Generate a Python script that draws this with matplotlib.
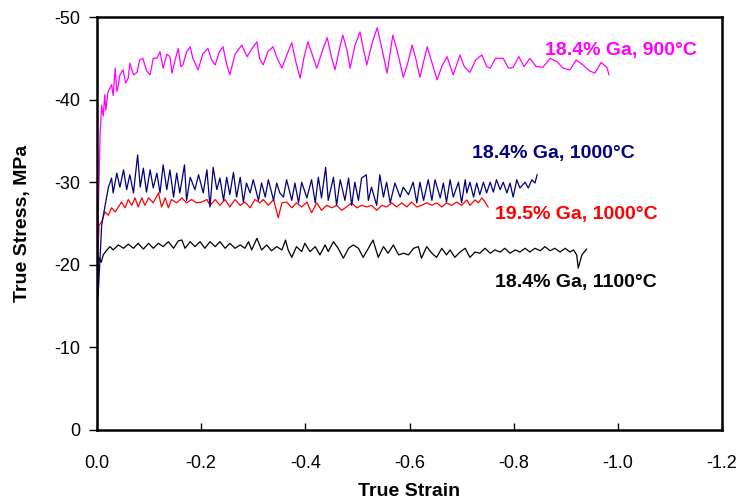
# True stress vs true strain curves for Ga alloys at several temperatures

import numpy as np
import matplotlib.pyplot as plt

plt.rcParams['font.family'] = ['Liberation Sans', 'DejaVu Sans']
plt.rcParams['axes.unicode_minus'] = False

# 18.4% Ga, 900C
strain_900 = [0.001, 0.003, 0.005, 0.006, 0.009, 0.012, 0.015, 0.017, 0.021, 0.028,
              0.031, 0.035, 0.038, 0.040, 0.044, 0.050, 0.055, 0.060, 0.063, 0.070,
              0.077, 0.082, 0.088, 0.095, 0.102, 0.108, 0.115, 0.121, 0.127, 0.134,
              0.140, 0.144, 0.150, 0.156, 0.161, 0.165, 0.172, 0.179, 0.184, 0.194,
              0.203, 0.213, 0.220, 0.227, 0.235, 0.242, 0.248, 0.255, 0.265, 0.278,
              0.288, 0.298, 0.307, 0.312, 0.319, 0.328, 0.338, 0.346, 0.355, 0.365,
              0.374, 0.382, 0.390, 0.397, 0.405, 0.413, 0.422, 0.432, 0.442, 0.450,
              0.457, 0.465, 0.472, 0.480, 0.486, 0.495, 0.505, 0.512, 0.518, 0.528,
              0.538, 0.546, 0.557, 0.568, 0.578, 0.588, 0.597, 0.605, 0.612, 0.620,
              0.634, 0.643, 0.653, 0.662, 0.672, 0.684, 0.697, 0.705, 0.716, 0.727,
              0.739, 0.748, 0.755, 0.765, 0.780, 0.790, 0.799, 0.810, 0.820, 0.831,
              0.843, 0.856, 0.870, 0.883, 0.895, 0.908, 0.920, 0.933, 0.945, 0.956,
              0.968, 0.979, 0.983]
stress_900 = [18.2, 27.8, 33.0, 36.0, 39.3, 38.0, 40.6, 38.7, 40.9, 41.8,
              40.5, 43.8, 41.0, 41.4, 43.0, 43.6, 42.0, 42.6, 44.4, 43.0,
              43.3, 44.8, 45.0, 43.5, 43.0, 45.0, 45.0, 45.8, 43.8, 45.5,
              45.2, 43.2, 44.8, 46.2, 44.0, 44.2, 45.8, 46.4, 45.0, 43.6,
              45.5, 46.2, 44.8, 44.2, 45.8, 46.4, 44.5, 43.0, 45.5, 46.6,
              45.2, 46.2, 47.0, 45.0, 44.2, 45.8, 46.4, 45.0, 43.8, 45.5,
              46.9, 44.5, 42.6, 45.0, 47.0, 45.5, 43.8, 45.8, 47.5, 45.2,
              43.6, 46.0, 47.8, 46.0, 43.8, 46.5, 48.2, 46.0, 44.2, 46.8,
              48.7, 46.5, 43.2, 47.8, 45.5, 42.7, 44.5, 46.6, 45.0, 42.7,
              46.4, 44.5, 42.4, 44.0, 45.2, 43.0, 45.4, 44.0, 43.3, 44.8,
              45.4, 44.0, 43.8, 45.0, 45.0, 43.8, 43.9, 45.2, 44.0, 45.0,
              44.0, 43.9, 45.0, 44.6, 43.8, 43.6, 44.8, 44.2, 43.5, 43.2,
              44.5, 43.9, 43.0]

# 18.4% Ga, 1000C
strain_1000a = [0.000, 0.003, 0.006, 0.009, 0.015, 0.022, 0.028, 0.031, 0.038, 0.044,
                0.051, 0.057, 0.063, 0.070, 0.078, 0.083, 0.089, 0.095, 0.102, 0.108,
                0.115, 0.121, 0.127, 0.134, 0.140, 0.147, 0.153, 0.159, 0.168, 0.172,
                0.179, 0.188, 0.195, 0.204, 0.211, 0.217, 0.223, 0.230, 0.236, 0.243,
                0.249, 0.255, 0.262, 0.268, 0.275, 0.281, 0.287, 0.294, 0.300, 0.310,
                0.316, 0.323, 0.329, 0.339, 0.345, 0.351, 0.358, 0.364, 0.374, 0.380,
                0.387, 0.393, 0.403, 0.412, 0.419, 0.425, 0.431, 0.439, 0.444, 0.454,
                0.460, 0.467, 0.476, 0.483, 0.489, 0.495, 0.502, 0.508, 0.517, 0.521,
                0.527, 0.537, 0.543, 0.550, 0.556, 0.563, 0.572, 0.582, 0.588, 0.598,
                0.607, 0.614, 0.620, 0.627, 0.636, 0.643, 0.649, 0.659, 0.665, 0.671,
                0.678, 0.684, 0.694, 0.700, 0.707, 0.710, 0.716, 0.723, 0.729, 0.735,
                0.742, 0.748, 0.755, 0.761, 0.767, 0.774, 0.780, 0.787, 0.793, 0.799,
                0.806, 0.812, 0.822, 0.828, 0.835, 0.841, 0.845]
stress_1000a = [15.0, 17.3, 21.0, 24.8, 27.0, 29.4, 30.5, 28.7, 31.1, 29.4,
                31.5, 29.1, 30.9, 28.7, 33.3, 29.4, 31.7, 28.8, 31.5, 29.3,
                31.1, 28.7, 32.1, 29.1, 31.5, 28.2, 31.1, 28.7, 32.1, 27.8,
                30.6, 29.1, 30.9, 28.7, 31.5, 27.0, 31.8, 29.1, 30.5, 27.8,
                30.6, 28.5, 31.2, 28.2, 30.6, 27.6, 29.9, 28.7, 30.3, 27.8,
                29.9, 28.2, 30.3, 27.8, 29.9, 28.7, 28.2, 30.3, 27.8, 29.9,
                27.5, 30.0, 28.1, 30.3, 27.5, 30.6, 28.1, 31.8, 27.8, 30.6,
                27.2, 30.3, 27.8, 30.5, 27.2, 30.0, 27.8, 30.5, 30.9, 27.8,
                29.4, 27.2, 30.9, 28.2, 30.0, 27.5, 29.9, 28.2, 29.4, 28.5,
                30.0, 27.5, 30.0, 27.8, 30.3, 27.8, 30.3, 28.1, 29.9, 27.6,
                30.3, 28.2, 30.0, 27.5, 30.3, 28.7, 30.0, 28.2, 29.9, 28.5,
                30.0, 28.7, 30.0, 28.8, 30.3, 29.1, 30.0, 28.7, 29.9, 28.2,
                30.3, 29.3, 30.0, 29.3, 30.3, 29.9, 30.9]

# 19.5% Ga, 1000C
strain_1000b = [0.000, 0.001, 0.002, 0.004, 0.009, 0.015, 0.022, 0.028, 0.035, 0.041,
                0.047, 0.054, 0.060, 0.067, 0.073, 0.079, 0.086, 0.092, 0.099, 0.108,
                0.118, 0.124, 0.131, 0.137, 0.143, 0.153, 0.163, 0.172, 0.182, 0.191,
                0.201, 0.211, 0.217, 0.227, 0.236, 0.246, 0.255, 0.265, 0.275, 0.284,
                0.294, 0.303, 0.313, 0.319, 0.329, 0.339, 0.348, 0.355, 0.364, 0.374,
                0.383, 0.393, 0.403, 0.412, 0.422, 0.431, 0.441, 0.451, 0.460, 0.470,
                0.479, 0.489, 0.499, 0.508, 0.518, 0.527, 0.537, 0.547, 0.556, 0.566,
                0.575, 0.585, 0.595, 0.604, 0.614, 0.623, 0.633, 0.643, 0.652, 0.662,
                0.671, 0.681, 0.691, 0.700, 0.710, 0.716, 0.726, 0.732, 0.739, 0.745,
                0.751]
stress_1000b = [9.0, 16.0, 22.0, 24.8, 25.2, 26.4, 26.0, 26.9, 26.4, 27.0,
                27.6, 26.9, 27.9, 27.2, 28.1, 27.0, 28.1, 27.2, 28.1, 27.5,
                28.7, 27.0, 28.1, 26.9, 27.9, 27.5, 28.1, 27.5, 27.9, 27.5,
                27.6, 27.9, 27.2, 27.9, 27.2, 27.9, 27.0, 27.9, 27.2, 27.6,
                26.9, 27.9, 27.5, 27.9, 27.2, 27.9, 25.7, 27.5, 27.6, 26.9,
                27.5, 27.0, 27.6, 26.3, 27.5, 26.6, 27.2, 26.9, 27.2, 26.6,
                27.0, 27.5, 26.9, 27.2, 27.0, 27.2, 26.6, 27.2, 27.0, 27.5,
                27.0, 27.5, 27.0, 27.6, 27.0, 27.2, 27.5, 27.2, 27.5, 27.0,
                27.5, 27.2, 27.6, 27.2, 27.85, 27.2, 27.85, 27.5, 28.1, 27.6,
                27.0]

# 18.4% Ga, 1100C
strain_1100 = [0.000, 0.002, 0.004, 0.008, 0.012, 0.019, 0.025, 0.031, 0.041, 0.051,
               0.060, 0.070, 0.079, 0.089, 0.099, 0.108, 0.118, 0.127, 0.137, 0.147,
               0.156, 0.163, 0.169, 0.179, 0.188, 0.198, 0.207, 0.217, 0.227, 0.236,
               0.246, 0.255, 0.265, 0.275, 0.284, 0.291, 0.297, 0.307, 0.316, 0.326,
               0.335, 0.345, 0.355, 0.362, 0.367, 0.374, 0.383, 0.393, 0.399, 0.409,
               0.419, 0.428, 0.438, 0.444, 0.454, 0.463, 0.473, 0.483, 0.492, 0.502,
               0.511, 0.521, 0.530, 0.540, 0.550, 0.559, 0.569, 0.579, 0.589, 0.598,
               0.608, 0.617, 0.623, 0.633, 0.643, 0.652, 0.662, 0.671, 0.678, 0.687,
               0.697, 0.707, 0.716, 0.726, 0.735, 0.745, 0.755, 0.764, 0.774, 0.783,
               0.793, 0.803, 0.812, 0.822, 0.831, 0.841, 0.851, 0.860, 0.870, 0.879,
               0.889, 0.899, 0.908, 0.915, 0.921, 0.924, 0.931, 0.940]
stress_1100 = [17.0, 19.5, 20.9, 20.3, 21.2, 21.8, 22.2, 21.8, 22.4, 22.0,
               22.5, 22.0, 22.6, 21.9, 22.6, 22.0, 22.6, 22.2, 22.8, 22.0,
               22.9, 23.0, 22.0, 22.8, 22.2, 22.8, 22.0, 22.8, 22.2, 22.8,
               22.0, 22.6, 22.0, 22.4, 22.0, 22.8, 21.8, 23.2, 21.8, 22.4,
               21.7, 22.2, 21.8, 23.0, 21.8, 20.9, 22.2, 21.6, 22.6, 21.6,
               22.2, 21.2, 22.4, 21.6, 22.8, 22.0, 20.8, 22.0, 22.4, 22.0,
               20.9, 22.0, 23.0, 20.9, 22.2, 21.4, 22.4, 21.2, 21.4, 21.2,
               22.0, 22.2, 20.8, 22.2, 21.4, 20.9, 22.0, 21.2, 21.8, 20.9,
               21.55, 22.0, 20.9, 21.55, 21.4, 22.0, 21.4, 21.8, 21.55, 22.0,
               21.4, 21.8, 21.55, 22.0, 21.55, 22.0, 21.7, 22.2, 21.7, 22.0,
               21.55, 22.0, 21.55, 21.8, 21.2, 19.6, 21.2, 21.9]

series = [
    (strain_1100, stress_1100, 'black', '18.4% Ga, 1100°C', 0.764, -17.8),
    (strain_1000b, stress_1000b, '#FF0000', '19.5% Ga, 1000°C', 0.764, -26.15),
    (strain_1000a, stress_1000a, '#000080', '18.4% Ga, 1000°C', 0.720, -33.5),
    (strain_900, stress_900, '#FF00FF', '18.4% Ga, 900°C', 0.860, -46.0),
]

fig = plt.figure(figsize=(7.41, 5.01), dpi=100)
ax = fig.add_axes([97 / 741, 1 - 430 / 501, 625 / 741, 413 / 501])

for eps, sig, color, label, lx, ly in series:
    ax.plot(-np.array(eps), -np.array(sig), color=color, lw=0.9)
    ax.text(-lx, ly, label, color=color, fontsize=14, fontweight='bold',
            va='center', ha='left', clip_on=False)

ax.set_xlim(0, -1.2)
ax.set_ylim(0, -50)

xticks = [0.0, -0.2, -0.4, -0.6, -0.8, -1.0, -1.2]
xlabels = ['0.0', '-0.2', '-0.4', '-0.6', '-0.8', '-1.0', '-1.2']
yticks = [0, -10, -20, -30, -40, -50]
ylabels = ['0', '-10', '-20', '-30', '-40', '-50']
ax.set_xticks(xticks)
ax.set_xticklabels(xlabels)
ax.set_yticks(yticks)
ax.set_yticklabels(ylabels)

ax.tick_params(axis='x', direction='in', length=5, width=1, pad=18, labelsize=13)
ax.tick_params(axis='y', direction='out', length=6, width=1, pad=6, labelsize=13)

for s in ax.spines.values():
    s.set_linewidth(1.8)

ax.set_xlabel('True Strain', fontsize=14, fontweight='bold', labelpad=8)
ax.set_ylabel('True Stress, MPa', fontsize=14, fontweight='bold', labelpad=17)

fig.savefig('out.png', dpi=100)
